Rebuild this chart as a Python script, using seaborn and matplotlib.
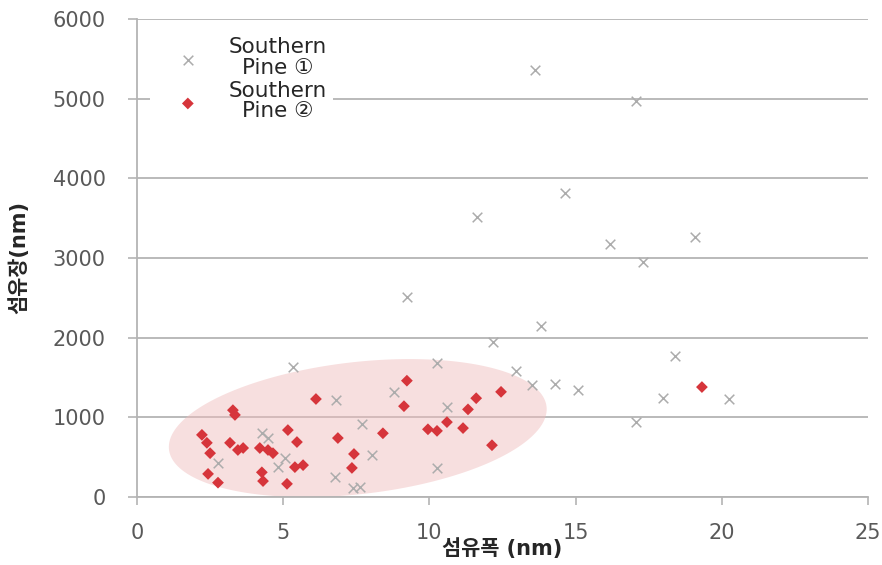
import numpy as np
import pandas as pd
import matplotlib
matplotlib.use("Agg")
import matplotlib.pyplot as plt
import seaborn as sns

# Fiber width (nm) and fiber length (nm) for the two pulp samples
pine1_width = [13.6, 17.07, 14.64, 11.63, 16.18, 19.08, 17.3, 9.23, 13.82, 12.17,
               18.4, 10.26, 5.34, 12.96, 13.5, 14.3, 15.08, 8.79, 17.99, 20.25,
               6.8, 10.6, 17.07, 7.7, 4.27, 4.48, 8.04, 5.06, 2.77, 4.82,
               10.26, 6.77, 7.39, 7.63]
pine1_length = [5360, 4970, 3815, 3510, 3175, 3260, 2950, 2510, 2145, 1945,
                1770, 1680, 1631, 1580, 1405, 1420, 1340, 1320, 1240, 1230,
                1220, 1130, 940, 915, 800, 740, 530, 490, 425, 375,
                365, 250, 115, 125]

pine2_width = [19.32, 9.23, 12.45, 11.6, 6.12, 9.13, 11.32, 3.28, 3.35, 10.6,
               11.15, 9.95, 10.26, 5.16, 8.41, 2.22, 6.87, 5.47, 2.39, 3.18,
               12.14, 3.63, 4.2, 3.45, 4.48, 4.65, 2.5, 7.42, 5.68, 5.4,
               7.35, 4.27, 2.43, 4.31, 2.77, 5.13]
pine2_length = [1380, 1460, 1320, 1240, 1230, 1140, 1100, 1090, 1030, 940,
                865, 850, 830, 840, 800, 780, 740, 690, 680, 680,
                650, 615, 615, 590, 590, 550, 550, 540, 400, 375,
                365, 310, 290, 200, 180, 165]

series_labels = ["Southern\nPine ①", "Southern\nPine ②"]
x_ticks = [0, 5, 10, 15, 20, 25]
y_ticks = [0, 1000, 2000, 3000, 4000, 5000, 6000]

df1 = pd.DataFrame({"w": pine1_width, "l": pine1_length})
df2 = pd.DataFrame({"w": pine2_width, "l": pine2_length})

sns.set_theme(style="white")
plt.rcParams["font.family"] = ["DejaVu Sans", "Noto Sans CJK KR"]

fig = plt.figure(figsize=(8.82, 5.65), dpi=100)
ax = fig.add_axes([137 / 882, 1 - 497 / 565, 731 / 882, 478 / 565])

grey_txt = "#595959"
line_col = "#b4b4b4"

ax.set_xlim(0, 25)
ax.set_ylim(0, 6000)
ax.set_xticks(x_ticks)
ax.set_yticks(y_ticks)

# horizontal gridlines only
ax.yaxis.grid(True, color=line_col, linewidth=1.3, zorder=0)
ax.xaxis.grid(False)
ax.set_axisbelow(True)

for side in ["top", "right"]:
    ax.spines[side].set_visible(False)
for side in ["left", "bottom"]:
    ax.spines[side].set_color(line_col)
    ax.spines[side].set_linewidth(1.3)

ax.tick_params(axis="y", which="major", left=True, length=6.5, width=1.2,
               color=line_col, pad=16, labelsize=15, labelcolor=grey_txt)
ax.tick_params(axis="x", which="major", bottom=True, length=6, width=1.2,
               color=line_col, pad=13, labelsize=15, labelcolor=grey_txt)

# shaded ellipse around the Pine 2 cluster (shape defined in pixels, rotated on screen)
fig.canvas.draw()
cx, cy = ax.transData.transform((7.55, 865))
a_px, b_px, ang = 190, 66, np.deg2rad(6.5)
t = np.linspace(0, 2 * np.pi, 200)
px = cx + a_px * np.cos(t) * np.cos(ang) - b_px * np.sin(t) * np.sin(ang)
py = cy + a_px * np.cos(t) * np.sin(ang) + b_px * np.sin(t) * np.cos(ang)
ell = ax.transData.inverted().transform(np.column_stack([px, py]))
ax.fill(ell[:, 0], ell[:, 1], color="#f0bcbc", alpha=0.48, linewidth=0, zorder=1)

sns.scatterplot(data=df1, x="w", y="l", ax=ax, marker="x", s=48,
                color="#acacac", linewidth=1.1, label=series_labels[0], zorder=3)
sns.scatterplot(data=df2, x="w", y="l", ax=ax, marker="D", s=36,
                color="#d6353b", edgecolor="none", label=series_labels[1], zorder=4)

ax.set_xlabel("섬유폭 (nm)", fontsize=15, fontweight="bold", color="#262626")
ax.set_ylabel("섬유장(nm)", fontsize=15, fontweight="bold", color="#262626")
ax.xaxis.set_label_coords(0.5, -0.086)
ax.yaxis.set_label_coords(-0.147, 0.5)

leg = ax.legend(loc="upper left", bbox_to_anchor=(0.018, 0.975), fontsize=15.5,
                frameon=True, facecolor="white", edgecolor="none", framealpha=1,
                fancybox=False, handletextpad=0.45, labelspacing=0.15,
                borderpad=0.3, handlelength=2.9, borderaxespad=0)
for txt in leg.get_texts():
    txt.set_multialignment("center")
    txt.set_linespacing(1.02)
    txt.set_color("#262626")

fig.savefig("out.png", dpi=100)
